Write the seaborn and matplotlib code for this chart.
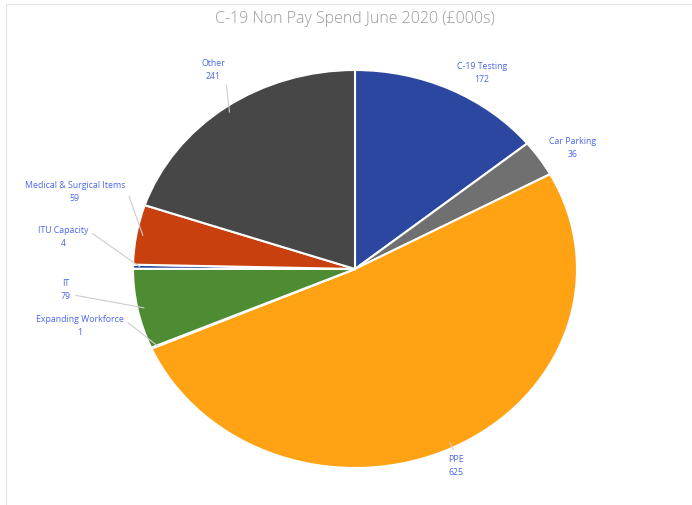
import numpy as np
import matplotlib
matplotlib.use("Agg")
import matplotlib.pyplot as plt
import seaborn as sns
from matplotlib.patches import Rectangle

categories = ["C-19 Testing", "Car Parking", "PPE", "Expanding Workforce",
              "IT", "ITU Capacity", "Medical & Surgical Items", "Other"]
values = [172, 36, 625, 1, 79, 4, 59, 241]
title = "C-19 Non Pay Spend June 2020 (£000s)"

colors = ["#2c47a0", "#707070", "#ffa214", "#4a78c8",
          "#4e8c34", "#2a4a9a", "#c8400e", "#474747"]

# label text centres in image pixels (x, y from top)
label_pos = [(482, 73), (573, 148), (456, 466), (80, 326),
             (66, 290), (63, 237), (75, 192), (213, 70)]
leader = [False, False, True, True, True, True, True, True]
relpos = [(0.5, 0.5), (0.5, 0.5), (0.5, 1.0), (1.0, 0.75),
          (1.0, 0.25), (1.0, 0.75), (1.0, 0.75), (1.0, 0.3)]

sns.set_theme(style="white")
plt.rcParams["font.family"] = ["Open Sans", "DejaVu Sans"]

W, H = 692, 506
fig = plt.figure(figsize=(W / 100, H / 100), dpi=100)
fig.patch.set_facecolor("white")

# frame lines
fig.add_artist(Rectangle((6 / W, -0.01), 1.2, 1.0 - 4.5 / H + 0.01, transform=fig.transFigure,
                         fill=False, edgecolor="#e4e4e4", lw=0.8))

cx, cy, rx, ry = 355, 270, 222, 199
ax = fig.add_axes([(cx - rx) / W, (H - cy - ry) / H, 2 * rx / W, 2 * ry / H])
wedges, _ = ax.pie(values, colors=colors, startangle=90, counterclock=False,
                   wedgeprops=dict(edgecolor="white", linewidth=1.5))
ax.set_aspect("auto")
ax.set_xlim(-1, 1)
ax.set_ylim(-1, 1)
ax.axis("off")

for w, name, val, (px, py), ld, rp in zip(wedges, categories, values, label_pos, leader, relpos):
    mid = np.deg2rad((w.theta1 + w.theta2) / 2)
    xy = (0.97 * np.cos(mid), 0.97 * np.sin(mid))
    ax.annotate(f"{name}\n{val}", xy=xy, xycoords="data",
                xytext=(px, H - py), textcoords="figure pixels",
                ha="center", va="center", fontsize=6.3, color="#4a66ee",
                linespacing=1.6,
                arrowprops=(dict(arrowstyle="-", color="#cccccc", lw=0.8,
                                 relpos=rp, shrinkA=1, shrinkB=0) if ld else None),
                annotation_clip=False)

fig.text(355 / W, 1 - 19 / H, title, ha="center", va="center",
         fontsize=11.5, color="#9a9a9a", fontweight="light")

fig.savefig("out.png", dpi=100)
